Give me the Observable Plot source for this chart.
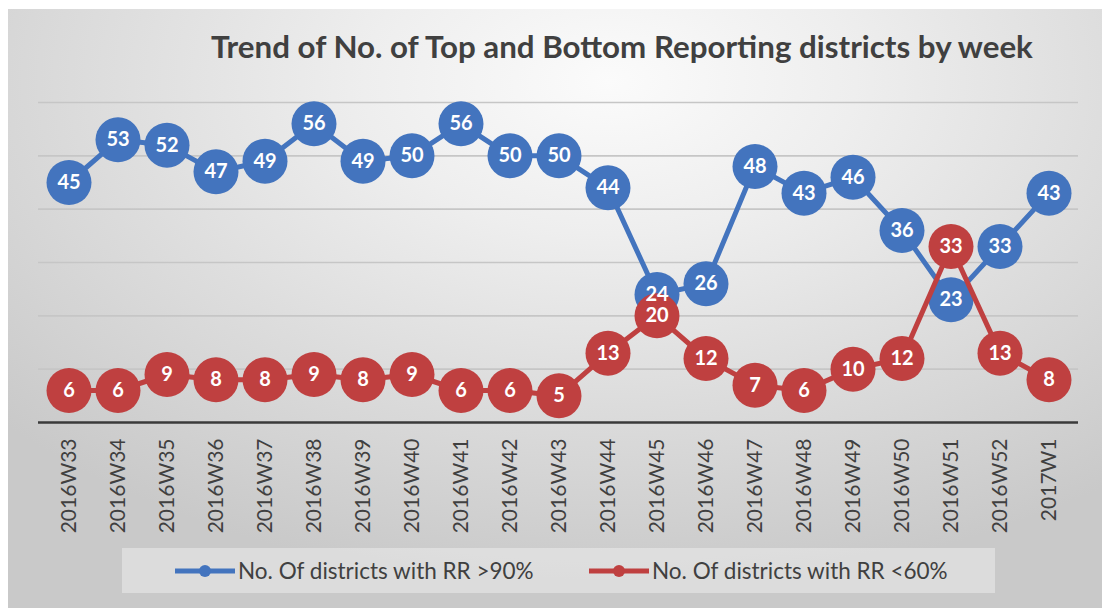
<!DOCTYPE html>
<html>
<head>
<meta charset="utf-8">
<script src="https://cdn.jsdelivr.net/npm/d3@7"></script>
<script src="https://cdn.jsdelivr.net/npm/@observablehq/plot@0.6"></script>
<style>
  html, body { margin: 0; padding: 0; background: #fff; }
  #wrap { position: relative; width: 1102px; height: 608px; overflow: hidden; background: #fff; font-family: Lato, "Open Sans", sans-serif; }
  #bg { position: absolute; left: 8px; top: 9px; right: 0; bottom: 0;
        background: radial-gradient(ellipse 75% 85% at 55% 12%, #fbfbfb 0%, #eeeeee 30%, #dedede 60%, #c9c9c9 100%); }
  #title { position: absolute; left: 211px; top: 28px; font-size: 31.3px; font-weight: bold; color: #404040; white-space: nowrap; line-height: 36px; }
  #chart { position: absolute; left: 0; top: 0; }
  #legend { position: absolute; left: 122px; top: 548px; width: 873px; height: 45px; background: rgba(255,255,255,0.35); }
  .item { position: absolute; top: 0; height: 45px; display: flex; align-items: center; font-size: 22.5px; color: #404040; white-space: nowrap; }
  .item svg { margin-right: 3px; }
</style>
</head>
<body>
<div id="wrap">
  <div id="bg"></div>
  <div id="chart"></div>
  <div id="title"></div>
  <div id="legend"></div>
</div>
<script>
const titleText = "Trend of No. of Top and Bottom Reporting districts by week";
const weeks = ["2016W33","2016W34","2016W35","2016W36","2016W37","2016W38","2016W39","2016W40","2016W41","2016W42","2016W43","2016W44","2016W45","2016W46","2016W47","2016W48","2016W49","2016W50","2016W51","2016W52","2017W1"];
const top90 = [45,53,52,47,49,56,49,50,56,50,50,44,24,26,48,43,46,36,23,33,43];
const bottom60 = [6,6,9,8,8,9,8,9,6,6,5,13,20,12,7,6,10,12,33,13,8];
const seriesNames = ["No. Of districts with RR >90%", "No. Of districts with RR <60%"];
const gridTicks = [10,20,30,40,50,60];

const blue = "#4374BE";
const red = "#BF4040";

const topData = weeks.map((w,i) => ({week: w, value: top90[i]}));
const botData = weeks.map((w,i) => ({week: w, value: bottom60[i]}));

document.getElementById("title").textContent = titleText;

const plot = Plot.plot({
  width: 1102,
  height: 545,
  marginLeft: 38,
  marginRight: 24,
  marginTop: 102,
  marginBottom: 123,
  style: { background: "transparent", fontFamily: "Lato, 'Open Sans', sans-serif", overflow: "visible" },
  x: { type: "band", domain: weeks, padding: 0, label: null },
  y: { domain: [0, 60], axis: null },
  marks: [
    Plot.ruleY(gridTicks, { stroke: "#c6c6c6", strokeWidth: 1.6 }),
    Plot.ruleY([0], { stroke: "#3a3a3a", strokeWidth: 2.7 }),
    Plot.axisX({ tickSize: 0, tickRotate: -90, tickPadding: 16, fontSize: 21, fill: "#404040", label: null }),
    Plot.line(topData, { x: "week", y: "value", stroke: blue, strokeWidth: 5 }),
    Plot.dot(topData, { x: "week", y: "value", r: 22.5, fill: blue, stroke: null }),
    Plot.line(botData, { x: "week", y: "value", stroke: red, strokeWidth: 5 }),
    Plot.dot(botData, { x: "week", y: "value", r: 22.5, fill: red, stroke: null }),
    Plot.text(topData, { x: "week", y: "value", text: d => String(d.value), fill: "white", fontSize: 20, fontWeight: "bold" }),
    Plot.text(botData, { x: "week", y: "value", text: d => String(d.value), fill: "white", fontSize: 20, fontWeight: "bold" })
  ]
});
document.getElementById("chart").appendChild(plot);

// legend
const legend = document.getElementById("legend");
const legendItems = [
  { name: seriesNames[0], color: blue, left: 53 },
  { name: seriesNames[1], color: red, left: 467 }
];
for (const it of legendItems) {
  const div = document.createElement("div");
  div.className = "item";
  div.style.left = it.left + "px";
  div.innerHTML = `<svg width="60" height="14"><line x1="0" y1="7" x2="60" y2="7" stroke="${it.color}" stroke-width="5"/><circle cx="30" cy="7" r="6" fill="${it.color}"/></svg>`;
  const span = document.createElement("span");
  span.textContent = it.name;
  div.appendChild(span);
  legend.appendChild(div);
}
</script>
</body>
</html>
